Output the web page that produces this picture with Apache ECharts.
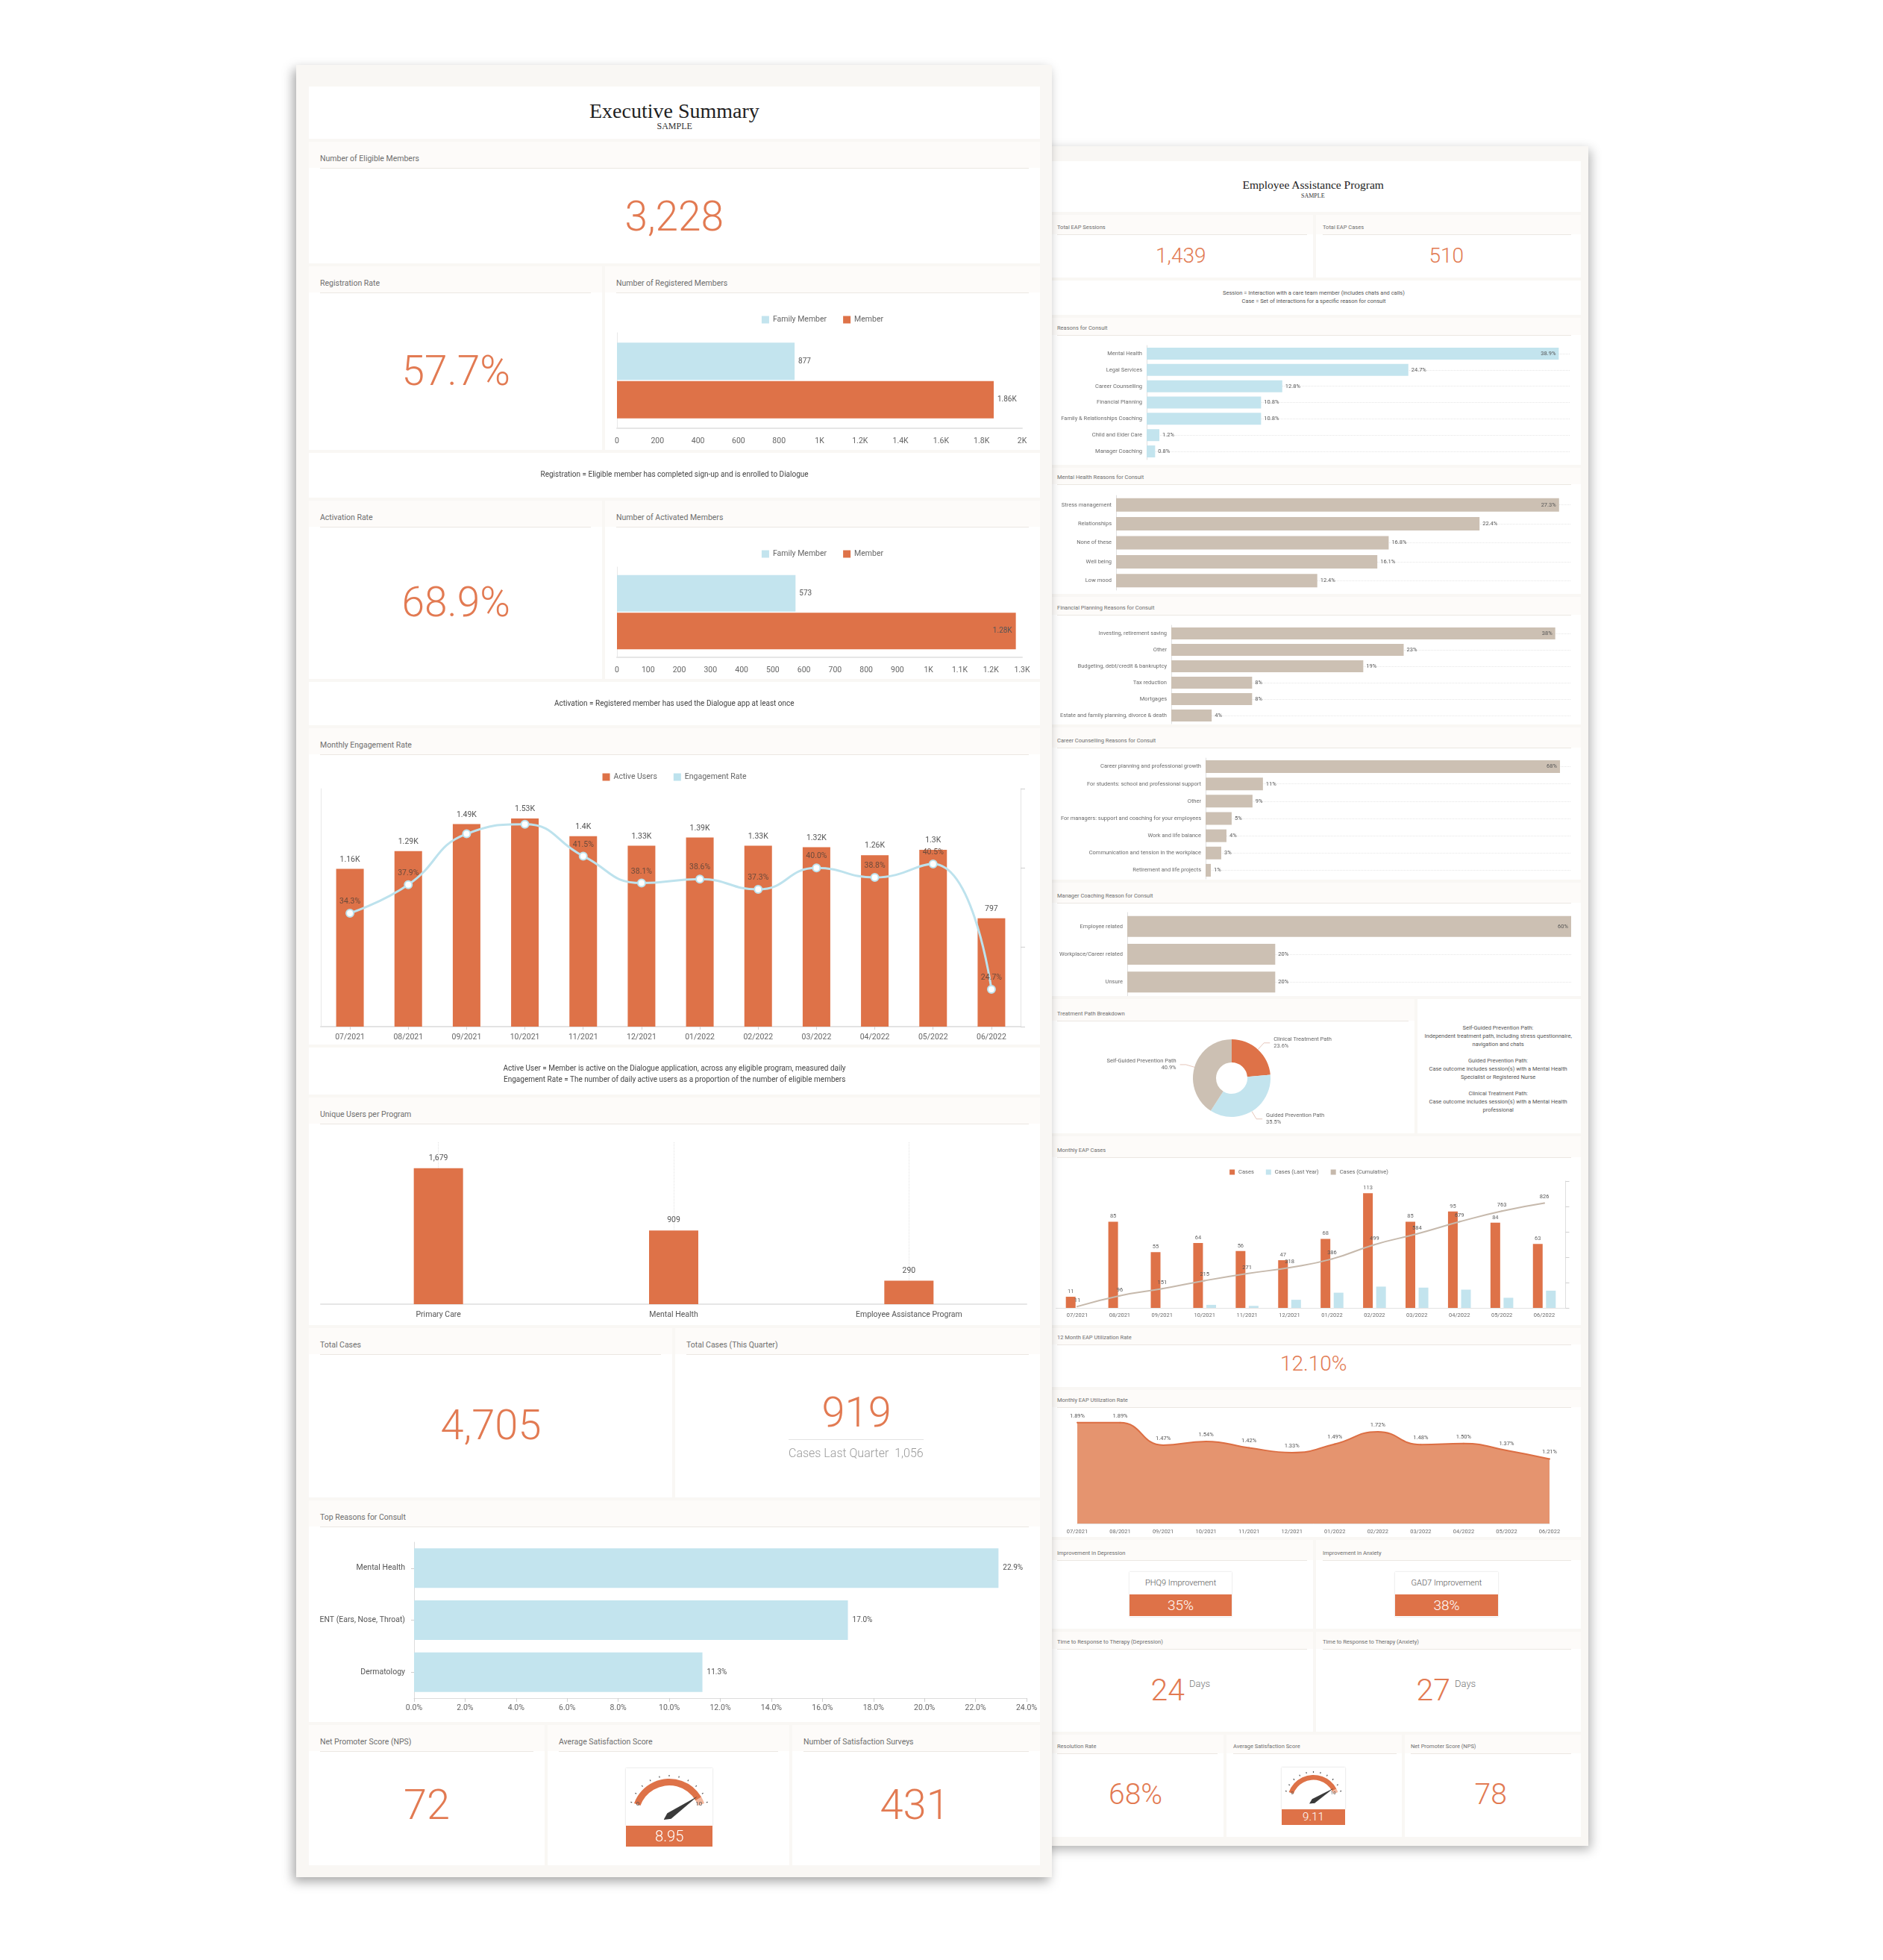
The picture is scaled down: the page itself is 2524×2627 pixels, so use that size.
<!DOCTYPE html>
<html><head><meta charset="utf-8"><title>Executive Summary / Employee Assistance Program</title>
<script src="https://cdn.jsdelivr.net/npm/echarts@6.0.0/dist/echarts.min.js"></script>
<style>
html,body{margin:0;padding:0;}
body{width:2524px;height:2627px;background:#ffffff;position:relative;overflow:hidden;font-family:Roboto,"Noto Sans","Liberation Sans",sans-serif;}
div{box-sizing:border-box;}
</style></head><body>
<script>
// ================= DATA =================
// Executive Summary
const eligibleMembers = '3,228';
const registrationRate = '57.7%';
const activationRate = '68.9%';
const memberTypes = ['Family Member', 'Member'];
const registeredMembers = [877, 1860];
const activatedMembers = [573, 1280];
const months = ['07/2021','08/2021','09/2021','10/2021','11/2021','12/2021','01/2022','02/2022','03/2022','04/2022','05/2022','06/2022'];
const activeUsers = [1160, 1290, 1490, 1530, 1400, 1330, 1390, 1330, 1320, 1260, 1300, 797];
const engagementRate = [34.3, 37.9, 44.3, 45.5, 41.5, 38.1, 38.6, 37.3, 40.0, 38.8, 40.5, 24.7];
const programs = ['Primary Care', 'Mental Health', 'Employee Assistance Program'];
const uniqueUsers = [1679, 909, 290];
const totalCases = '4,705';
const casesThisQuarter = '919';
const casesLastQuarter = '1,056';
const topReasons = ['Mental Health', 'ENT (Ears, Nose, Throat)', 'Dermatology'];
const topReasonShare = [22.9, 17.0, 11.3];
const npsScore = '72';
const avgSatisfaction = 8.95;
const satisfactionSurveys = '431';
// Employee Assistance Program
const totalEapSessions = '1,439';
const totalEapCases = '510';
const consultReasons = ['Mental Health','Legal Services','Career Counselling','Financial Planning','Family & Relationships Coaching','Child and Elder Care','Manager Coaching'];
const consultShare = [38.9, 24.7, 12.8, 10.8, 10.8, 1.2, 0.8];
const mhReasons = ['Stress management','Relationships','None of these','Well being','Low mood'];
const mhShare = [27.3, 22.4, 16.8, 16.1, 12.4];
const finReasons = ['Investing, retirement saving','Other','Budgeting, debt/credit & bankruptcy','Tax reduction','Mortgages','Estate and family planning, divorce & death'];
const finShare = [38, 23, 19, 8, 8, 4];
const careerReasons = ['Career planning and professional growth','For students: school and professional support','Other','For managers: support and coaching for your employees','Work and life balance','Communication and tension in the workplace','Retirement and life projects'];
const careerShare = [68, 11, 9, 5, 4, 3, 1];
const mgrReasons = ['Employee related','Workplace/Career related','Unsure'];
const mgrShare = [60, 20, 20];
const treatmentPaths = ['Clinical Treatment Path','Guided Prevention Path','Self-Guided Prevention Path'];
const treatmentShare = [23.6, 35.5, 40.9];
const eapCaseSeries = ['Cases','Cases (Last Year)','Cases (Cumulative)'];
const eapCases = [11, 85, 55, 64, 56, 47, 68, 113, 85, 95, 84, 63];
const eapCasesLastYear = [0, 0, 0, 3, 2, 8, 15, 21, 20, 18, 10, 17];
const eapCasesCumulative = [11, 96, 151, 215, 271, 318, 386, 499, 584, 679, 763, 826];
const utilization12m = '12.10%';
const monthlyUtilization = [1.89, 1.89, 1.47, 1.54, 1.42, 1.33, 1.49, 1.72, 1.48, 1.50, 1.37, 1.21];
const phq9Improvement = '35%';
const gad7Improvement = '38%';
const daysDepression = '24';
const daysAnxiety = '27';
const resolutionRate = '68%';
const eapSatisfaction = 9.11;
const eapNps = '78';

// ================= HELPERS =================
const FONT = 'Roboto, "Noto Sans", sans-serif';
const SERIF = '"Liberation Serif","DejaVu Serif",serif';
const C = {orange:'#de7248', kpi:'#e27a52', blue:'#c3e4ee', beige:'#ccc0b3', lineBlue:'#bde2ed', cum:'#c6b9ac', area:'#e5946f', txt:'#5f5f5f'};
function kfmt(v){ if (v >= 1000) return (+(v/1000).toFixed(2)) + 'K'; return String(v); }
function el(x,y,w,h,css,html){
  const d=document.createElement('div');
  d.style.cssText=`position:absolute;left:${x}px;top:${y}px;width:${w}px;height:${h}px;${css||''}`;
  if(html!=null) d.innerHTML=html;
  document.body.appendChild(d); return d;
}
function txt(x,y,s,css,align){
  const d=document.createElement('div');
  d.style.cssText='position:absolute;left:0;top:0;white-space:nowrap;line-height:1.15;'+(css||'');
  d.innerHTML=s; document.body.appendChild(d);
  const w=d.offsetWidth,h=d.offsetHeight;
  const l= align==='left'?x:(align==='right'?x-w:x-w/2);
  d.style.left=l+'px'; d.style.top=(y-h/2)+'px'; return d;
}
function section(x,y,w,h,title,o){
  el(x,y,w,h,'background:#ffffff;');
  if(title){
    el(x,y,w,o.hdr,'background:#fdfbf9;');
    el(o.ux1,y+o.hdr,o.ux2-o.ux1,1,'background:#ebe7e2;');
    txt(o.ux1,o.ly,title,`font-size:${o.fs}px;color:#6e6e6e;`,'left');
  }
}
function ls(x,y,w,h,title){ section(x,y,w,h,title,{ly:y+23,ux1:x+15,ux2:x+w-15,fs:10.5,hdr:35}); }
function rs(x,y,w,h,title,ly,ux1,ux2){ section(x,y,w,h,title,{ly:ly,ux1:ux1,ux2:ux2,fs:7.5,hdr:ly-y+9}); }
function chart(x,y,w,h,opt){
  const d=el(x,y,w,h,'');
  const c=echarts.init(d,null,{renderer:'canvas',width:w,height:h});
  opt.animation=false;
  opt.textStyle=Object.assign({fontFamily:FONT},opt.textStyle||{});
  c.setOption(opt); return c;
}
function grid(x,y,w,h,x1,y1,x2,y2){ return {left:x1-x,top:y1-y,right:(x+w)-x2,bottom:(y+h)-y2,containLabel:false,outerBoundsMode:'none'}; }
function kpi(x,y,s,size){ return txt(x,y,s,`font-size:${size}px;font-weight:300;color:${C.kpi};`,'center'); }

// ================= RIGHT PAGE (behind) =================
el(1370,196,759,2278,'background:#f9f7f4;box-shadow:3px 5px 14px rgba(0,0,0,0.30);');
rs(1390,216,729,68,null);
txt(1760,248,'Employee Assistance Program',`font-family:${SERIF};font-size:15.5px;color:#222;`,'center');
txt(1760,262,'SAMPLE',`font-family:${SERIF};font-size:8px;color:#333;`,'center');
rs(1390,288,370,84,'Total EAP Sessions',305,1417,1752);
rs(1764,288,355,84,'Total EAP Cases',305,1773,2106);
kpi(1583,343,totalEapSessions,28); kpi(1939,343,totalEapCases,28);
rs(1390,376,729,46,null);
txt(1761,393,'Session = Interaction with a care team member (includes chats and calls)','font-size:7.5px;color:#555;','center');
txt(1761,404,'Case = Set of interactions for a specific reason for consult','font-size:7.5px;color:#555;','center');
rs(1390,426,729,197,'Reasons for Consult',440,1417,2106);
rs(1390,627,729,169,'Mental Health Reasons for Consult',640,1417,2106);
rs(1390,800,729,171,'Financial Planning Reasons for Consult',815,1417,2106);
rs(1390,975,729,204,'Career Counselling Reasons for Consult',993,1417,2106);
rs(1390,1183,729,152,'Manager Coaching Reason for Consult',1201,1417,2106);
rs(1390,1339,506,180,'Treatment Path Breakdown',1359,1417,1888);
rs(1900,1339,219,180,null);
rs(1390,1523,729,253,'Monthly EAP Cases',1542,1417,2106);
rs(1390,1780,729,79,'12 Month EAP Utilization Rate',1793,1417,2106);
rs(1390,1863,729,197,'Monthly EAP Utilization Rate',1877,1417,2106);
rs(1390,2064,370,119,'Improvement in Depression',2082,1417,1752);
rs(1764,2064,355,119,'Improvement in Anxiety',2082,1773,2106);
rs(1390,2187,370,134,'Time to Response to Therapy (Depression)',2201,1417,1752);
rs(1764,2187,355,134,'Time to Response to Therapy (Anxiety)',2201,1773,2106);
rs(1390,2325,250,137,'Resolution Rate',2341,1417,1632);
rs(1644,2325,235,137,'Average Satisfaction Score',2341,1653,1872);
rs(1883,2325,236,137,'Net Promoter Score (NPS)',2341,1891,2106);

// horizontal bar helper (right page)
function hbar(x,y,w,h,gx1,gy1,gx2,gy2,cats,vals,max,color,barW,fmt){
  const g=grid(x,y,w,h,gx1,gy1,gx2,gy2);
  const maxV=Math.max.apply(null,vals);
  chart(x,y,w,h,{
    grid:g,
    xAxis:{type:'value',min:0,max:max,show:false,splitLine:{show:false}},
    yAxis:{type:'category',data:cats,inverse:true,
      axisLine:{show:true,lineStyle:{color:'#e0e0e0'}},
      axisTick:{show:true,inside:true,alignWithLabel:true,length:gx2-gx1,lineStyle:{color:'#e6e6e6',type:'dotted'}},
      axisLabel:{fontSize:7.5,color:'#6b6b6b',margin:6},splitLine:{show:false}},
    series:[{type:'bar',data:vals.map(v=>({value:v,label:{position:(v===maxV&&v/max>0.93)?'insideRight':'right'}})),
      barWidth:barW,itemStyle:{color:color},
      label:{show:true,fontSize:7.5,color:'#555',distance:4,formatter:p=>fmt(p.value)}}]
  });
}
const pct1=v=>v.toFixed(1)+'%', pct0=v=>Math.round(v)+'%';
hbar(1390,449,729,174,1537,463,2105,616,consultReasons,consultShare,40,C.blue,16,pct1);
hbar(1390,650,729,146,1496,664,2105,791,mhReasons,mhShare,28,C.beige,18,pct1);
hbar(1390,825,729,146,1570,838,2105,970,finReasons,finShare,39.5,C.beige,16,pct0);
hbar(1390,1003,729,176,1616,1016,2105,1178,careerReasons,careerShare,70,C.beige,17,pct0);
hbar(1390,1211,729,124,1511,1223,2106,1335,mgrReasons,mgrShare,60,C.beige,28,pct0);

// donut
chart(1390,1368,506,151,{
  series:[{type:'pie',radius:[21,52],center:[261,77],startAngle:90,clockwise:true,
    data:treatmentPaths.map((n,i)=>({name:n,value:treatmentShare[i],itemStyle:{color:[C.orange,C.blue,C.beige][i]}})),
    label:{show:true,formatter:p=>p.name+'\n'+p.value.toFixed(1)+'%',fontSize:7.5,color:'#666',lineHeight:9},
    labelLine:{show:true,length:12,length2:8,lineStyle:{color:'#e0b8a8',width:0.8}},
    itemStyle:{borderWidth:0}}]
});
const tpText=[
  ['Self-Guided Prevention Path:','Independent treatment path, including stress questionnaire,','navigation and chats'],
  ['Guided Prevention Path:','Case outcome includes session(s) with a Mental Health','Specialist or Registered Nurse'],
  ['Clinical Treatment Path:','Case outcome includes session(s) with a Mental Health','professional']];
tpText.forEach((blk,b)=>blk.forEach((ln,i)=>txt(2008,1378+b*44+i*11,ln,'font-size:7.5px;color:#555;','center')));

// monthly EAP cases
(function(){
  const x=1390,y=1552,w=729,h=224;
  chart(x,y,w,h,{
    legend:{data:eapCaseSeries,top:10,left:'center',icon:'rect',itemWidth:7,itemHeight:7,itemGap:16,textStyle:{fontSize:7.5,color:'#666'}},
    grid:grid(x,y,w,h,1415.5,1583,2098.5,1753),
    xAxis:{type:'category',data:months,axisLine:{show:true,lineStyle:{color:'#e3e3e3'}},axisTick:{show:false},axisLabel:{fontSize:7.5,color:'#6b6b6b',margin:6},splitLine:{show:false}},
    yAxis:[{type:'value',min:0,max:125,show:false,splitLine:{show:false}},
           {type:'value',min:0,max:1000,interval:200,position:'right',axisLine:{show:true,lineStyle:{color:'#dedede'}},axisTick:{show:true,length:5,lineStyle:{color:'#d0d0d0'}},axisLabel:{show:false},splitLine:{show:false}}],
    series:[
      {type:'bar',name:eapCaseSeries[0],data:eapCases,barWidth:13,barGap:'35%',itemStyle:{color:C.orange},label:{show:true,position:'top',fontSize:7.5,color:'#666',distance:3}},
      {type:'bar',name:eapCaseSeries[1],data:eapCasesLastYear,barWidth:13,itemStyle:{color:C.blue}},
      {type:'line',name:eapCaseSeries[2],yAxisIndex:1,data:eapCasesCumulative,smooth:true,symbol:'circle',symbolSize:2,showSymbol:true,
        lineStyle:{color:C.cum,width:2},itemStyle:{color:C.cum},label:{show:true,position:'top',fontSize:7.5,color:'#555',distance:3}}
    ]
  });
})();

kpi(1761,1828,utilization12m,28);

// monthly utilization area
(function(){
  const x=1390,y=1888,w=729,h=172;
  chart(x,y,w,h,{
    grid:grid(x,y,w,h,1444,1899,2077,2042),
    xAxis:{type:'category',boundaryGap:false,data:months,axisLine:{show:true,lineStyle:{color:'#e3e3e3'}},axisTick:{show:false},axisLabel:{fontSize:7.5,color:'#6b6b6b',margin:7},splitLine:{show:false}},
    yAxis:{type:'value',min:0,max:2,show:false,splitLine:{show:false}},
    series:[{type:'line',data:monthlyUtilization,smooth:true,symbol:'circle',symbolSize:2,lineStyle:{color:'#dc6e43',width:2},itemStyle:{color:'#dc6e43'},
      areaStyle:{color:C.area,opacity:1},label:{show:true,position:'top',fontSize:7.5,color:'#555',distance:4,formatter:p=>p.value.toFixed(2)+'%'}}]
  });
})();

// improvement boxes
function impBox(x,y,w,label,val){
  el(x,y,w,60,'background:#fff;box-shadow:0 0 2px rgba(0,0,0,0.18);');
  txt(x+w/2,y+15,label,'font-size:11px;font-weight:300;color:#555;','center');
  el(x,y+30,w,29,`background:${C.orange};`);
  txt(x+w/2,y+44.5,val,'font-size:19px;font-weight:300;color:#fff;','center');
}
impBox(1514,2107,137,'PHQ9 Improvement',phq9Improvement);
impBox(1870,2107,138,'GAD7 Improvement',gad7Improvement);
kpi(1565,2265,daysDepression,41); txt(1594,2257,'Days','font-size:13px;font-weight:300;color:#777;','left');
kpi(1921,2265,daysAnxiety,41); txt(1950,2257,'Days','font-size:13px;font-weight:300;color:#777;','left');
kpi(1522,2405,resolutionRate,39);
kpi(1998,2405,eapNps,39);

// gauges
function gauge(x,y,w,h,bandH,val,cy,r,lw,fs){
  el(x,y,w,h,'background:#fff;box-shadow:0 0 2px rgba(0,0,0,0.2);');
  chart(x,y,w,h,{
    series:[{type:'gauge',center:[w/2,cy],radius:r,startAngle:160,endAngle:20,min:0,max:10,splitNumber:10,
      axisLine:{lineStyle:{width:lw,color:[[Math.min(1,val/10+0.03),C.orange],[1,'#f3b79d']]}},
      progress:{show:false},
      pointer:{length:'92%',width:lw*0.5,offsetCenter:[0,0],itemStyle:{color:'#3a3a3a'}},
      anchor:{show:true,size:lw*0.8,itemStyle:{color:'#3a3a3a'}},
      axisTick:{show:false},
      splitLine:{show:true,distance:-(lw+5),length:2,lineStyle:{width:1.2,color:'#555'}},
      axisLabel:{distance:lw+6,fontSize:fs,color:'#555',formatter:v=>(v===0||v===10)?String(v):''},
      detail:{show:false},title:{show:false},
      data:[{value:val}]}]
  });
  el(x,y+h,w,bandH,`background:${C.orange};`);
  txt(x+w/2,y+h+bandH/2,val.toFixed(2),`font-size:${bandH*0.72}px;font-weight:300;color:#fff;`,'center');
}
gauge(1718,2369,85,56,21,eapSatisfaction,45,35,6.5,6);

// ================= LEFT PAGE (front) =================
el(397,87,1013,2429,'background:#f9f7f4;box-shadow:-4px 6px 14px rgba(0,0,0,0.35);');
ls(414,116,980,70,null);
txt(904,149,'Executive Summary',`font-family:${SERIF};font-size:28px;color:#1f1f1f;`,'center');
txt(904,170,'SAMPLE',`font-family:${SERIF};font-size:12px;color:#333;`,'center');
ls(414,190,980,163,'Number of Eligible Members');
kpi(904,290,eligibleMembers,55);
ls(414,357,393,246,'Registration Rate');
ls(811,357,583,246,'Number of Registered Members');
kpi(611,497,registrationRate,55);
ls(414,607,980,60,null);
txt(904,636,'Registration = Eligible member has completed sign-up and is enrolled to Dialogue','font-size:10px;color:#444;','center');
ls(414,671,393,239,'Activation Rate');
ls(811,671,583,239,'Number of Activated Members');
kpi(611,807,activationRate,55);
ls(414,914,980,58,null);
txt(904,943,'Activation = Registered member has used the Dialogue app at least once','font-size:10px;color:#444;','center');
ls(414,976,980,424,'Monthly Engagement Rate');
ls(414,1404,980,63,null);
txt(904,1432,'Active User = Member is active on the Dialogue application, across any eligible program, measured daily','font-size:10px;color:#444;','center');
txt(904,1447,'Engagement Rate = The number of daily active users as a proportion of the number of eligible members','font-size:10px;color:#444;','center');
ls(414,1471,980,305,'Unique Users per Program');
ls(414,1780,487,227,'Total Cases');
ls(905,1780,489,227,'Total Cases (This Quarter)');
kpi(658,1910,totalCases,56);
kpi(1148,1893,casesThisQuarter,56);
el(1057,1929,181,1,'background:#e2e2e2;');
txt(1057,1948,`Cases Last Quarter&nbsp;&nbsp;<span style="font-family:${SERIF};color:#333;font-weight:400;">${casesLastQuarter}</span>`,'font-size:16px;font-weight:300;color:#9a9a9a;','left');
ls(414,2011,980,297,'Top Reasons for Consult');
ls(414,2312,316,188,'Net Promoter Score (NPS)');
ls(734,2312,324,188,'Average Satisfaction Score');
ls(1062,2312,332,188,'Number of Satisfaction Surveys');
kpi(572,2419,npsScore,56);
kpi(1226,2419,satisfactionSurveys,56);

// registered / activated members
function memberChart(y,h,gy1,gy2,legendY,vals,max,interval,barW,insideLast){
  const x=811,w=583;
  chart(x,y,w,h,{
    legend:{data:memberTypes,top:legendY-y-6,left:'center',icon:'rect',itemWidth:10,itemHeight:10,itemGap:22,textStyle:{fontSize:10.5,color:'#666'}},
    grid:grid(x,y,w,h,827,gy1,1370,gy2),
    xAxis:{type:'value',min:0,max:max,interval:interval,axisLine:{show:true,lineStyle:{color:'#e6e6e6',width:2}},axisTick:{show:false},splitLine:{show:false},
      axisLabel:{formatter:kfmt,fontSize:10.5,color:'#666',margin:12}},
    yAxis:{type:'category',data:[''],axisLine:{show:true,lineStyle:{color:'#e8e8e8'}},axisTick:{show:false},axisLabel:{show:false},splitLine:{show:false}},
    series:memberTypes.map((n,i)=>({type:'bar',name:n,data:[vals[i]],barWidth:barW,barGap:'3%',itemStyle:{color:i?C.orange:C.blue},
      label:{show:true,position:(insideLast&&i===1)?'insideRight':'right',formatter:p=>kfmt(p.value),fontSize:10,color:'#555',distance:5}}))
  });
}
memberChart(394,209,446,574,424,registeredMembers,2000,200,50,false);
memberChart(708,202,760,881,738,activatedMembers,1300,100,49,true);

// monthly engagement
(function(){
  const x=414,y=1011,w=980,h=389;
  chart(x,y,w,h,{
    legend:{data:[{name:'Active Users'},{name:'Engagement Rate',itemStyle:{color:C.lineBlue,borderWidth:0}}],top:1037-y-6,left:'center',icon:'rect',itemWidth:10,itemHeight:10,itemGap:22,textStyle:{fontSize:10.5,color:'#666'}},
    grid:grid(x,y,w,h,430,1057,1368,1376),
    xAxis:{type:'category',data:months,axisLine:{show:true,lineStyle:{color:'#e3e3e3',width:2}},axisTick:{show:true,alignWithLabel:true,length:4,lineStyle:{color:'#d0d0d0'}},
      axisLabel:{fontSize:10.5,color:'#666',margin:9},splitLine:{show:false}},
    yAxis:[{type:'value',min:0,max:1750,axisLine:{show:true,lineStyle:{color:'#e8e8e8'}},axisTick:{show:false},axisLabel:{show:false},splitLine:{show:false}},
           {type:'value',min:20,max:50,interval:10,position:'right',axisLine:{show:true,lineStyle:{color:'#e3e3e3'}},axisTick:{show:true,length:6,lineStyle:{color:'#d0d0d0'}},axisLabel:{show:false},splitLine:{show:false}}],
    series:[
      {type:'bar',name:'Active Users',data:activeUsers,barWidth:37,itemStyle:{color:C.orange},
        label:{show:true,position:'top',formatter:p=>kfmt(p.value),fontSize:10.5,color:'#555',distance:7},labelLayout:{hideOverlap:true}},
      {type:'line',name:'Engagement Rate',yAxisIndex:1,data:engagementRate,smooth:true,symbol:'circle',symbolSize:10,
        lineStyle:{color:C.lineBlue,width:3},itemStyle:{color:'#ffffff',borderColor:C.lineBlue,borderWidth:2},
        label:{show:true,position:'top',formatter:p=>p.value.toFixed(1)+'%',fontSize:10.5,color:'#6b4a3b',distance:4},labelLayout:{hideOverlap:true}}
    ]
  });
})();

// unique users per program
(function(){
  const x=414,y=1506,w=980,h=270;
  chart(x,y,w,h,{
    grid:grid(x,y,w,h,430,1531,1376,1748),
    xAxis:{type:'category',data:programs,axisLine:{show:true,lineStyle:{color:'#e6e6e6',width:2}},
      axisTick:{show:true,inside:true,alignWithLabel:true,length:217,lineStyle:{color:'#e2e2e2',type:'dotted'}},
      axisLabel:{fontSize:10.5,color:'#555',margin:9},splitLine:{show:false}},
    yAxis:{type:'value',min:0,max:2000,show:false,splitLine:{show:false}},
    series:[{type:'bar',data:uniqueUsers,barWidth:66,itemStyle:{color:C.orange},
      label:{show:true,position:'top',fontSize:10.5,color:'#555',distance:8,formatter:p=>p.value.toLocaleString('en-US')}}]
  });
})();

// top reasons for consult
(function(){
  const x=414,y=2046,w=980,h=262;
  chart(x,y,w,h,{
    grid:grid(x,y,w,h,555,2067,1376,2276),
    xAxis:{type:'value',min:0,max:24,interval:2,axisLine:{show:true,lineStyle:{color:'#dcdcdc'}},axisTick:{show:true,length:5,lineStyle:{color:'#cfcfcf'}},splitLine:{show:false},
      axisLabel:{formatter:v=>v.toFixed(1)+'%',fontSize:10.5,color:'#666',margin:8}},
    yAxis:{type:'category',data:topReasons,inverse:true,axisLine:{show:true,lineStyle:{color:'#dcdcdc'}},axisTick:{show:true,length:4,alignWithLabel:true,lineStyle:{color:'#cfcfcf'}},
      axisLabel:{fontSize:10.5,color:'#555',margin:12},splitLine:{show:false}},
    series:[{type:'bar',data:topReasonShare,barWidth:53,itemStyle:{color:C.blue},
      label:{show:true,position:'right',formatter:p=>p.value.toFixed(1)+'%',fontSize:10,color:'#555',distance:6}}]
  });
})();

gauge(839,2370,116,77,28,avgSatisfaction,64,50,9,8);
</script>
</body></html>
